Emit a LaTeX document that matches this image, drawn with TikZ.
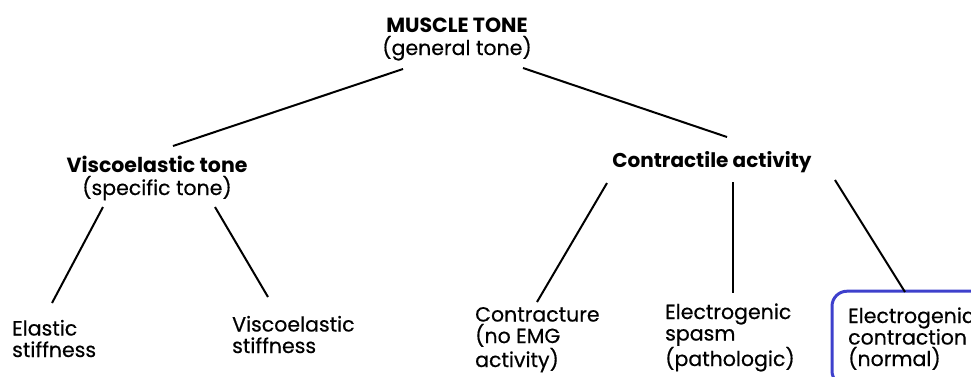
\documentclass[tikz,border=0pt]{standalone}
\usepackage{fontspec}
\setmainfont{Poppins}[UprightFeatures={FakeBold=0.5}]
\usepackage{xcolor}
\usepackage{tikz}
\usetikzlibrary{positioning, fit, calc}
\definecolor{highlight}{RGB}{62, 64, 204}
\tikzset{
    headline/.style={inner sep=0pt, align=center, font=\fontsize{20.5}{23}\selectfont},
    leaf/.style={inner sep=0pt, align=left, font=\fontsize{20.5}{21.5}\selectfont},
    link/.style={draw, line width=2pt, color=black},
    focusbox/.style={rectangle, draw=highlight, line width=3pt, rounded corners=15pt, inner sep=16pt}
}

\begin{document}
\begin{tikzpicture}[x=1pt, y=1pt]
        \useasboundingbox (0,0) rectangle (971,-376);
        \clip (0,0) rectangle (971,-376);

        % Root
        \node [headline, anchor=base] (tone) at (457,-55) {\textbf{MUSCLE TONE}\\(general tone)};

        % Viscoelastic branch
        \node [headline, below left=140pt and 300pt of tone.base, anchor=base] (visco) {\textbf{Viscoelastic tone}\\(specific tone)};
        \node [leaf, below left=162pt and 145pt of visco.base, anchor=base west] (elastic) {Elastic\\stiffness};
        \node [leaf, below right=158pt and 75pt of visco.base, anchor=base west] (viscostiff) {Viscoelastic\\stiffness};

        % Contractile branch
        \node [headline, below right=112pt and 255pt of tone.base, anchor=base, font=\fontsize{20}{23}\selectfont\bfseries] (contr) {Contractile activity};
        \node [leaf, below left=200pt and 237pt of contr.base, anchor=base west] (contracture) {Contracture\\(no EMG\\activity)};
        \node [leaf, below left=199pt and 47pt of contr.base, anchor=base west] (spasm) {Electrogenic\\spasm\\(pathologic)};
        \node [leaf, below right=199pt and 136pt of contr.base, anchor=base west] (normal) {Electrogenic\\contraction\\(normal)};
        \node [focusbox, fit=(normal)] (normalbox) {};

        % Connections
        \draw [link] ([shift={(-54pt,-14pt)}]tone.base) -- ([shift={(16pt,49pt)}]visco.base);
        \draw [link] ([shift={(66pt,-13pt)}]tone.base) -- ([shift={(15pt,30pt)}]contr.base);
        \draw [link] ([shift={(-54pt,-12pt)}]visco.base) -- ([shift={(40pt,54pt)}]elastic.base west);
        \draw [link] ([shift={(58pt,-12pt)}]visco.base) -- ([shift={(36pt,56pt)}]viscostiff.base west);
        \draw [link] ([shift={(-105pt,-16pt)}]contr.base) -- ([shift={(62pt,65pt)}]contracture.base west);
        \draw [link] ([shift={(21pt,-15pt)}]contr.base) -- ([shift={(68pt,73pt)}]spasm.base west);
        \draw [link] ([shift={(123pt,-13pt)}]contr.base) -- ([shift={(57pt,74pt)}]normal.base west);

    \end{tikzpicture}
\end{document}
